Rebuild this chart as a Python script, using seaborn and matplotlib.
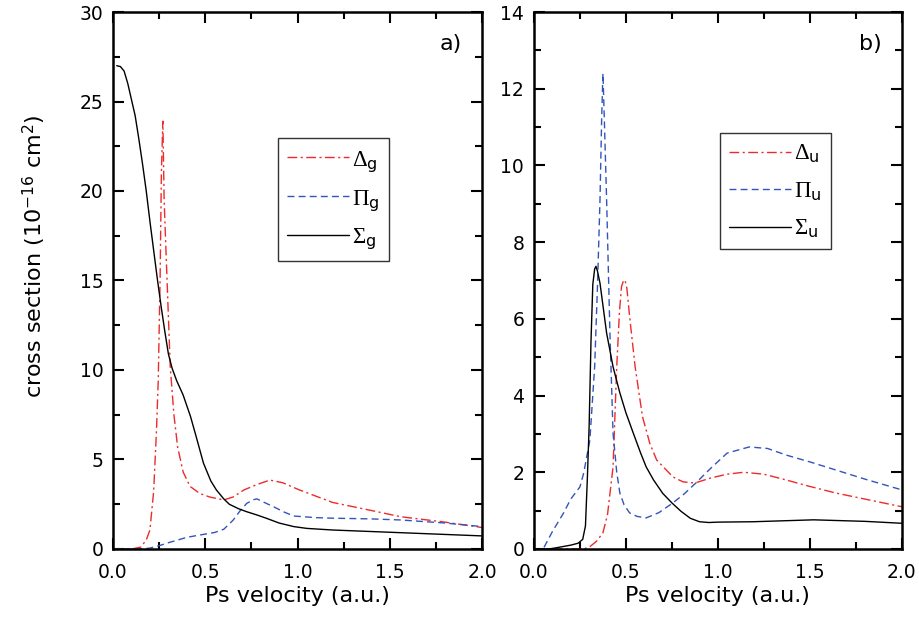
import numpy as np
import pandas as pd
import matplotlib
matplotlib.use("Agg")
import matplotlib.pyplot as plt
import seaborn as sns
from matplotlib.ticker import MultipleLocator, FormatStrFormatter

# ---------------- data ----------------
# panel a)
sig_g_x = [0.02, 0.04, 0.06, 0.08, 0.10, 0.12, 0.14, 0.16, 0.18, 0.20, 0.22, 0.24, 0.26,
           0.28, 0.30, 0.32, 0.345, 0.38, 0.40, 0.42, 0.45, 0.49, 0.53, 0.56, 0.60,
           0.63, 0.68, 0.725, 0.78, 0.83, 0.90, 0.98, 1.05, 1.19, 1.56, 2.0]
sig_g_y = [27.0, 26.95, 26.7, 26.0, 25.1, 24.2, 22.9, 21.5, 20.0, 18.3, 16.7, 15.1, 13.6,
           12.2, 10.9, 10.1, 9.4, 8.6, 8.0, 7.4, 6.3, 4.8, 3.8, 3.3, 2.8,
           2.5, 2.25, 2.08, 1.9, 1.72, 1.45, 1.25, 1.15, 1.06, 0.91, 0.73]

del_g_x = [0.0, 0.10, 0.15, 0.18, 0.20, 0.22, 0.235, 0.245, 0.255, 0.262, 0.27, 0.277, 0.29,
           0.31, 0.33, 0.35, 0.38, 0.417, 0.47, 0.525, 0.6, 0.65, 0.71, 0.78, 0.85, 0.92,
           1.01, 1.19, 1.4, 1.56, 1.8, 2.0]
del_g_y = [0.0, 0.0, 0.1, 0.5, 1.06, 3.2, 6.5, 9.4, 15.0, 21.0, 23.9, 19.5, 15.8,
           10.2, 7.5, 5.7, 4.3, 3.5, 3.1, 2.9, 2.74, 2.9, 3.3, 3.6, 3.85, 3.7,
           3.3, 2.6, 2.15, 1.8, 1.5, 1.2]

pi_g_x = [0.0, 0.15, 0.2, 0.255, 0.3, 0.35, 0.4, 0.47, 0.55, 0.6, 0.65, 0.69, 0.725, 0.76,
          0.78, 0.82, 0.87, 0.93, 0.98, 1.1, 1.19, 1.4, 1.56, 1.8, 2.0]
pi_g_y = [0.0, 0.0, 0.05, 0.2, 0.35, 0.5, 0.65, 0.78, 0.92, 1.1, 1.6, 2.15, 2.55, 2.75,
          2.8, 2.6, 2.36, 2.05, 1.84, 1.75, 1.72, 1.68, 1.62, 1.45, 1.25]

# panel b)
sig_u_x = [0.0, 0.08, 0.12, 0.2, 0.24, 0.265, 0.28, 0.29, 0.30, 0.31, 0.32, 0.33, 0.337,
           0.345, 0.359, 0.395, 0.43, 0.467, 0.50, 0.54, 0.58, 0.61, 0.65, 0.70, 0.75,
           0.80, 0.85, 0.90, 0.95, 1.0, 1.19, 1.52, 1.8, 2.0]
sig_u_y = [0.0, 0.0, 0.03, 0.1, 0.15, 0.25, 0.6, 1.8, 3.2, 5.4, 6.9, 7.3, 7.37,
           7.25, 6.93, 5.63, 4.75, 4.07, 3.55, 3.02, 2.5, 2.14, 1.8, 1.45, 1.2,
           0.98, 0.8, 0.71, 0.69, 0.70, 0.71, 0.76, 0.72, 0.67]

pi_u_x = [0.0, 0.05, 0.1, 0.16, 0.2, 0.25, 0.27, 0.304, 0.33, 0.345, 0.359, 0.368, 0.375,
          0.382, 0.395, 0.413, 0.43, 0.45, 0.467, 0.49, 0.52, 0.56, 0.61, 0.68, 0.755,
          0.82, 0.88, 0.96, 1.05, 1.17, 1.27, 1.37, 1.5, 1.64, 1.8, 2.0]
pi_u_y = [0.0, 0.0, 0.45, 0.93, 1.3, 1.62, 1.97, 2.84, 4.75, 6.8, 9.1, 11.2, 12.4,
          11.3, 9.1, 5.63, 3.02, 2.0, 1.46, 1.15, 0.94, 0.85, 0.81, 0.95, 1.2,
          1.45, 1.72, 2.1, 2.5, 2.66, 2.62, 2.45, 2.27, 2.06, 1.82, 1.54]

del_u_x = [0.0, 0.27, 0.304, 0.34, 0.375, 0.4, 0.43, 0.45, 0.465, 0.476, 0.487, 0.495, 0.505,
           0.52, 0.55, 0.59, 0.63, 0.667, 0.755, 0.81, 0.875, 0.96, 1.05, 1.14, 1.25,
           1.37, 1.5, 1.64, 1.8, 2.0]
del_u_y = [0.0, 0.0, 0.06, 0.2, 0.42, 0.9, 2.14, 4.75, 6.2, 6.84, 7.0, 7.01, 6.8,
           6.06, 4.75, 3.45, 2.75, 2.32, 1.88, 1.75, 1.72, 1.85, 1.95, 2.0, 1.95,
           1.8, 1.63, 1.46, 1.3, 1.1]

labels_a = [r'$\Delta_\mathsf{g}$', r'$\Pi_\mathsf{g}$', r'$\Sigma_\mathsf{g}$']
labels_b = [r'$\Delta_\mathsf{u}$', r'$\Pi_\mathsf{u}$', r'$\Sigma_\mathsf{u}$']
xticks = [0.0, 0.5, 1.0, 1.5, 2.0]

# ---------------- style ----------------
sns.set_style("ticks")
plt.rcParams['font.family'] = ['DejaVu Sans']
plt.rcParams['mathtext.fontset'] = 'custom'
plt.rcParams['mathtext.rm'] = 'Liberation Serif'
plt.rcParams['mathtext.it'] = 'Liberation Serif:italic'
plt.rcParams['mathtext.sf'] = 'DejaVu Sans'
plt.rcParams['text.color'] = 'black'
plt.rcParams['axes.labelcolor'] = 'black'
plt.rcParams['xtick.color'] = 'black'
plt.rcParams['ytick.color'] = 'black'

RED = '#ee2a2a'
BLUE = '#3355bb'
DASHDOT = (0, (7, 2.5, 1.5, 2.5))
DASHED = (0, (5, 3))

fig = plt.figure(figsize=(9.19, 6.22), dpi=100)
axA = fig.add_axes([0.123, 0.1174, 0.4015, 0.8633])
axB = fig.add_axes([0.581, 0.1174, 0.4004, 0.8633])


def draw(ax, series, labels):
    styles = [(RED, DASHDOT), (BLUE, DASHED), ('black', '-')]
    for (xs, ys), lab, (c, ls) in zip(series, labels, styles):
        df = pd.DataFrame({'x': xs, 'y': ys})
        sns.lineplot(data=df, x='x', y='y', ax=ax, color=c, linestyle=ls,
                     linewidth=1.0, estimator=None, sort=False, label=lab)


draw(axA, [(del_g_x, del_g_y), (pi_g_x, pi_g_y), (sig_g_x, sig_g_y)], labels_a)
draw(axB, [(del_u_x, del_u_y), (pi_u_x, pi_u_y), (sig_u_x, sig_u_y)], labels_b)

for ax, ymax, ymaj, panel, leg_anchor, lsp in [
        (axA, 30, 5, 'a)', (0.447, 0.765), 0.55),
        (axB, 14, 2, 'b)', (0.505, 0.775), 0.62)]:
    ax.set_xlim(0, 2.0)
    ax.set_ylim(0, ymax)
    ax.set_xticks(xticks)
    ax.xaxis.set_major_formatter(FormatStrFormatter('%.1f'))
    ax.xaxis.set_minor_locator(MultipleLocator(0.25))
    ax.yaxis.set_major_locator(MultipleLocator(ymaj))
    ax.yaxis.set_minor_locator(MultipleLocator(ymaj / 2))
    ax.tick_params(which='both', direction='in', top=True, right=True,
                   width=1.5, labelsize=13.5, color='black', labelcolor='black')
    ax.tick_params(axis='x', which='major', pad=10)
    ax.tick_params(axis='y', which='major', pad=7)
    ax.tick_params(which='major', length=8)
    ax.tick_params(which='minor', length=5)
    for sp in ax.spines.values():
        sp.set_linewidth(1.8)
        sp.set_color('black')
        sp.set_visible(True)
    ax.set_xlabel('Ps velocity (a.u.)', fontsize=16, labelpad=3)
    ax.set_ylabel('')
    ax.text(0.945, 0.94, panel, transform=ax.transAxes, ha='right', va='center',
            fontsize=16)
    leg = ax.legend(loc='upper left', bbox_to_anchor=leg_anchor, frameon=True,
                    fancybox=False, edgecolor='black', fontsize=16.5,
                    handlelength=2.7, handletextpad=0.15, borderpad=0.4,
                    labelspacing=lsp, borderaxespad=0)
    leg.get_frame().set_linewidth(1.0)

axA.set_ylabel(r'cross section (10$^{\mathsf{-16}}$ cm$^{\mathsf{2}}$)', fontsize=16)
axA.yaxis.set_label_coords(-0.178, 0.545)

fig.savefig('out.png', dpi=100)
